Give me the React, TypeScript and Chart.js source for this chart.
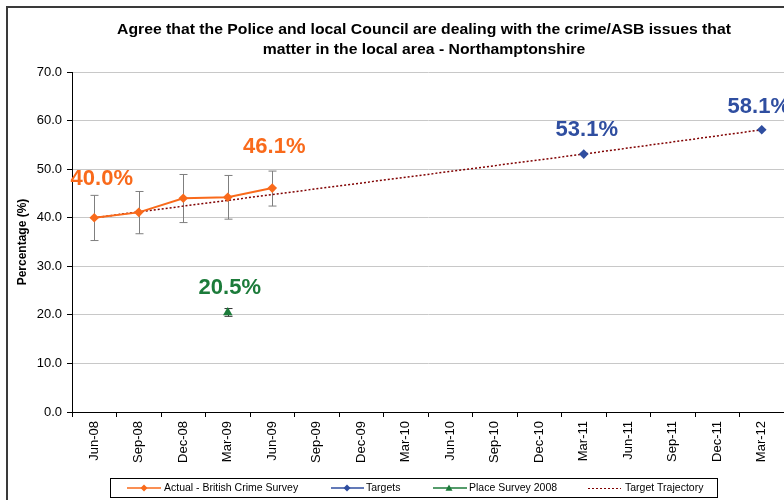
import React, { useEffect, useRef } from "react";
import { Chart, registerables } from "chart.js";

Chart.register(...registerables);

const categories = [
  "Jun-08", "Sep-08", "Dec-08", "Mar-09", "Jun-09", "Sep-09", "Dec-09", "Mar-10",
  "Jun-10", "Sep-10", "Dec-10", "Mar-11", "Jun-11", "Sep-11", "Dec-11", "Mar-12",
];
const actual = [40.0, 41.1, 44.0, 44.2, 46.1, null, null, null, null, null, null, null, null, null, null, null];
const actualErrHigh = [44.6, 45.4, 48.9, 48.7, 49.6];
const actualErrLow = [35.3, 36.7, 39.0, 39.7, 42.4];
const targets = [null, null, null, null, null, null, null, null, null, null, null, 53.1, null, null, null, 58.1];
const placeSurvey = [null, null, null, 20.5, null, null, null, null, null, null, null, null, null, null, null, null];
const placeErrHigh = [null, null, null, 21.3];
const placeErrLow = [null, null, null, 19.7];
const trajectory = [40.0, null, null, null, null, null, null, null, null, null, null, 53.1, null, null, null, 58.1];
const titleLines = [
  "Agree that the Police and local Council are dealing with the crime/ASB issues that",
  "matter in the local area - Northamptonshire",
];
const legendLabels = ["Actual - British Crime Survey", "Targets", "Place Survey 2008", "Target Trajectory"];
const yTicks = [0, 10, 20, 30, 40, 50, 60, 70];

const ORANGE = "#F96A1B";
const BLUE = "#2F4EA0";
const GREEN = "#1C7B3A";
const DARKRED = "#800000";
const SANS = '"Liberation Sans", Arial, sans-serif';

// value labels: [datasetIndex, pointIndex, text, color, dx, dy]
const valueLabels: [number, number, string, string, number, number][] = [
  [0, 0, "40.0%", ORANGE, 7.5, -39],
  [0, 4, "46.1%", ORANGE, 2, -41],
  [2, 3, "20.5%", GREEN, 2, -24],
  [1, 11, "53.1%", BLUE, 3, -24],
  [1, 15, "58.1%", BLUE, -3, -23],
];

function drawDiamond(ctx: CanvasRenderingContext2D, x: number, y: number, r: number, color: string) {
  ctx.beginPath();
  ctx.moveTo(x, y - r);
  ctx.lineTo(x + r, y);
  ctx.lineTo(x, y + r);
  ctx.lineTo(x - r, y);
  ctx.closePath();
  ctx.fillStyle = color;
  ctx.fill();
}
function drawTriangle(ctx: CanvasRenderingContext2D, x: number, y: number, r: number, color: string) {
  ctx.beginPath();
  ctx.moveTo(x, y - r);
  ctx.lineTo(x + r, y + r * 0.8);
  ctx.lineTo(x - r, y + r * 0.8);
  ctx.closePath();
  ctx.fillStyle = color;
  ctx.fill();
}
function scaledText(ctx: CanvasRenderingContext2D, text: string, x: number, y: number, sx: number) {
  ctx.save();
  ctx.translate(x, y);
  ctx.scale(sx, 1);
  ctx.fillText(text, 0, 0);
  ctx.restore();
}

const decorPlugin = {
  id: "decor",
  beforeDatasetsDraw(chart: any) {
    const ctx = chart.ctx;
    const xs = chart.scales.x;
    const ys = chart.scales.y;
    ctx.save();
    ctx.strokeStyle = "#7f7f7f";
    ctx.lineWidth = 1;
    const bars = (hi: (number | null)[], lo: (number | null)[]) => {
      for (let i = 0; i < hi.length; i++) {
        if (hi[i] == null || lo[i] == null) continue;
        const x = Math.round(xs.getPixelForValue(i)) + 0.5;
        const y1 = ys.getPixelForValue(hi[i]);
        const y2 = ys.getPixelForValue(lo[i]);
        ctx.beginPath();
        ctx.moveTo(x, y1);
        ctx.lineTo(x, y2);
        ctx.moveTo(x - 4, y1);
        ctx.lineTo(x + 4, y1);
        ctx.moveTo(x - 4, y2);
        ctx.lineTo(x + 4, y2);
        ctx.stroke();
      }
    };
    bars(actualErrHigh, actualErrLow);
    ctx.strokeStyle = "#333";
    bars(placeErrHigh, placeErrLow);
    ctx.restore();
  },
  afterDraw(chart: any) {
    const ctx = chart.ctx;
    ctx.save();
    // outer frame
    ctx.strokeStyle = "#3a3a3a";
    ctx.lineWidth = 2;
    ctx.strokeRect(7, 7, 800, 520);
    // title
    ctx.fillStyle = "#000";
    ctx.textAlign = "center";
    ctx.textBaseline = "middle";
    ctx.font = `bold 15px ${SANS}`;
    const w1 = ctx.measureText(titleLines[0]).width;
    const tsx = 614 / w1;
    scaledText(ctx, titleLines[0], 424, 30, tsx);
    scaledText(ctx, titleLines[1], 424, 50, tsx);
    // value labels
    ctx.font = `bold 22px ${SANS}`;
    for (const [di, pi, text, color, dx, dy] of valueLabels) {
      const el = chart.getDatasetMeta(di).data[pi];
      if (!el) continue;
      ctx.fillStyle = color;
      ctx.fillText(text, el.x + dx, el.y + dy);
    }
    // legend
    ctx.strokeStyle = "#000";
    ctx.lineWidth = 1;
    ctx.strokeRect(110.5, 478.5, 607, 19);
    ctx.font = `10.5px ${SANS}`;
    ctx.textAlign = "left";
    const ly = 488;
    ctx.lineWidth = 1.5;
    ctx.strokeStyle = ORANGE;
    ctx.beginPath(); ctx.moveTo(127, ly); ctx.lineTo(161, ly); ctx.stroke();
    drawDiamond(ctx, 144, ly, 3.5, ORANGE);
    ctx.fillStyle = "#000";
    ctx.fillText(legendLabels[0], 164, ly);
    ctx.strokeStyle = BLUE;
    ctx.beginPath(); ctx.moveTo(331, ly); ctx.lineTo(364, ly); ctx.stroke();
    drawDiamond(ctx, 347, ly, 3.5, BLUE);
    ctx.fillStyle = "#000";
    ctx.fillText(legendLabels[1], 366, ly);
    ctx.strokeStyle = GREEN;
    ctx.beginPath(); ctx.moveTo(433, ly); ctx.lineTo(467, ly); ctx.stroke();
    drawTriangle(ctx, 449, ly, 3.5, GREEN);
    ctx.fillStyle = "#000";
    ctx.fillText(legendLabels[2], 469, ly);
    ctx.strokeStyle = DARKRED;
    ctx.lineWidth = 1;
    ctx.setLineDash([2, 2]);
    ctx.beginPath(); ctx.moveTo(588, ly + 0.5); ctx.lineTo(621, ly + 0.5); ctx.stroke();
    ctx.setLineDash([]);
    ctx.fillStyle = "#000";
    ctx.fillText(legendLabels[3], 625, ly);
    ctx.restore();
  },
};

export default function App() {
  const ref = useRef<HTMLCanvasElement>(null);
  useEffect(() => {
    document.body.style.margin = "0";
    const canvas = ref.current!;
    const chart = new Chart(canvas, {
      type: "line",
      data: {
        labels: categories,
        datasets: [
          {
            label: legendLabels[0],
            data: actual,
            borderColor: ORANGE,
            backgroundColor: ORANGE,
            borderWidth: 2,
            pointStyle: "rectRot",
            pointRadius: 4.8,
            pointBorderWidth: 0,
            order: 1,
          },
          {
            label: legendLabels[1],
            data: targets,
            borderColor: BLUE,
            backgroundColor: BLUE,
            showLine: false,
            pointStyle: "rectRot",
            pointRadius: 4.8,
            pointBorderWidth: 0,
            order: 2,
          },
          {
            label: legendLabels[2],
            data: placeSurvey,
            borderColor: GREEN,
            backgroundColor: GREEN,
            showLine: false,
            pointStyle: "triangle",
            pointRadius: 5.5,
            pointBorderWidth: 0,
            order: 3,
          },
          {
            label: legendLabels[3],
            data: trajectory,
            borderColor: DARKRED,
            borderWidth: 1.5,
            borderDash: [2, 2],
            pointRadius: 0,
            spanGaps: true,
            order: 4,
          },
        ],
      },
      options: {
        responsive: false,
        animation: false,
        layout: { autoPadding: false, padding: { top: 72, left: 0, right: 0, bottom: 0 } },
        plugins: { legend: { display: false }, title: { display: false }, tooltip: { enabled: false } },
        scales: {
          x: {
            type: "category",
            offset: true,
            grid: { offset: true, drawOnChartArea: false, drawTicks: true, tickLength: 5, tickColor: "#000" },
            border: { color: "#000", width: 1 },
            ticks: {
              minRotation: 90,
              maxRotation: 90,
              autoSkip: false,
              color: "#000",
              padding: 4,
              font: { family: SANS, size: 13 },
            },
            afterFit(scale: any) {
              scale.height = 88;
              scale.paddingLeft = 0;
              scale.paddingRight = 0;
            },
          },
          y: {
            min: 0,
            max: 70,
            afterBuildTicks(scale: any) {
              scale.ticks = yTicks.map((v) => ({ value: v }));
            },
            grid: { color: "#c8c8c8", tickColor: "#000", tickLength: 5 },
            border: { color: "#000", width: 1 },
            ticks: {
              color: "#000",
              padding: 5,
              font: { family: SANS, size: 13 },
              callback: (v: any) => Number(v).toFixed(1),
            },
            title: {
              display: true,
              text: "Percentage (%)",
              color: "#000",
              font: { family: SANS, size: 12, weight: "bold" },
              padding: { top: 15, bottom: 4 },
            },
            afterFit(scale: any) {
              scale.width = 72;
            },
          },
        },
      },
      plugins: [decorPlugin],
    });
    return () => chart.destroy();
  }, []);
  return (
    <div style={{ position: "absolute", left: 0, top: 0, width: 784, height: 500, background: "#fff" }}>
      <canvas ref={ref} width={784} height={500} style={{ display: "block" }} />
    </div>
  );
}
